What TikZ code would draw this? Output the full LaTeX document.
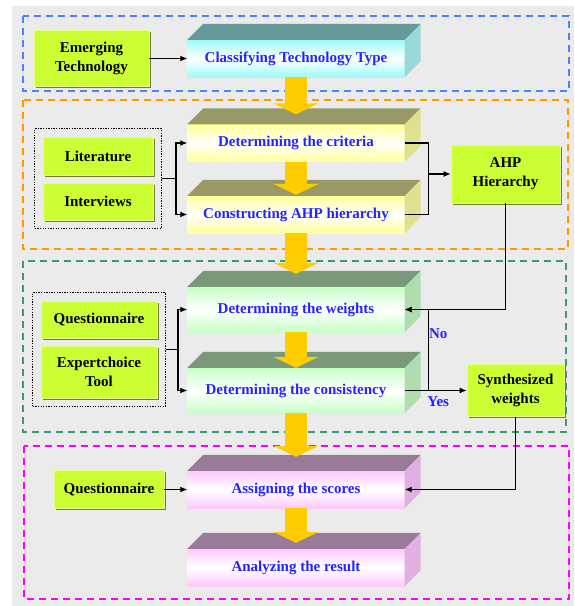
\documentclass[tikz,border=0pt]{standalone}
\usepackage{fontspec}
\setmainfont{Liberation Serif}
\usetikzlibrary{arrows.meta,positioning,fit,shadows}
\definecolor{bggray}{HTML}{EBEBEB}
\definecolor{stepblue}{HTML}{2424FF}
\definecolor{lime}{HTML}{CCFF33}
\definecolor{limeedge}{HTML}{E4FF88}
\definecolor{limeshadow}{HTML}{737B3C}
\definecolor{flowyellow}{HTML}{FFCC00}
\definecolor{cyanfront}{HTML}{9EFAFA}
\definecolor{cyantop}{HTML}{669999}
\definecolor{cyanside}{HTML}{99D9D9}
\definecolor{yelfront}{HTML}{FFFF99}
\definecolor{yeltop}{HTML}{999966}
\definecolor{yelside}{HTML}{E0E08E}
\definecolor{grnfront}{HTML}{C8FFC8}
\definecolor{grntop}{HTML}{7A997A}
\definecolor{grnside}{HTML}{B0DDB0}
\definecolor{pnkfront}{HTML}{FFC8FF}
\definecolor{pnktop}{HTML}{9A7A99}
\definecolor{pnkside}{HTML}{E0B0E0}
\definecolor{dashblue}{HTML}{4F7FFF}
\definecolor{dashorange}{HTML}{FF9900}
\definecolor{dashgreen}{HTML}{3A9970}
\definecolor{dashmagenta}{HTML}{FF00FF}
\tikzset{>/.tip={Latex[length=7pt,width=6pt]}}
\tikzset{
  stepbox/.style={minimum width=217pt,minimum height=37pt,inner sep=0pt,text=stepblue,
    top color=#1,bottom color=#1,middle color=white},
  inbox/.style={fill=lime,draw=limeedge,line width=0.6pt,align=center,inner sep=0pt,
    drop shadow={shadow xshift=1.6pt,shadow yshift=-1.6pt,fill=limeshadow,opacity=1}},
  srcgroup/.style={draw,dash pattern=on 1.3pt off 1.3pt,line width=1.3pt,inner sep=8pt},
  stage/.style={dash pattern=on 7pt off 5pt,line width=1.4pt},
  link/.style={draw,line width=1.3pt},
  flow/.style={line width=22pt,draw=flowyellow,-{Triangle[length=11pt,width=45pt]}},
  flowlabel/.style={text=stepblue,inner sep=0pt}
}
% top face and side face of a step box
\def\cuboid#1#2#3{%
  \fill[#2] (#1.north west) -- ++(16,-16) -- ([shift={(16,-16)}]#1.north east) -- (#1.north east) -- cycle;
  \fill[#3] (#1.north east) -- ++(16,-16) -- ([shift={(16,-16)}]#1.south east) -- (#1.south east) -- cycle;}
\begin{document}
\begin{tikzpicture}[x=1pt,y=-1pt,on grid,font=\bfseries\fontsize{15}{19}\selectfont]
  \useasboundingbox (0,0) rectangle (574,606);
  \fill[bggray] (12,6) rectangle (574,606);
  % stages
  \draw[stage,dashblue] (23,16) rectangle (569,91);
  \draw[stage,dashorange] (23,100) rectangle (568,249);
  \draw[stage,dashgreen] (23,261) rectangle (566,432);
  \draw[stage,dashmagenta] (24,446) rectangle (569,599);
  % main steps
  \node[stepbox=cyanfront] (classify) at (296,58.5) {Classifying Technology Type};
  \node[stepbox=yelfront] (criteria) [below=84.5pt of classify] {Determining the criteria};
  \node[stepbox=yelfront] (constructing) [below=71.5pt of criteria] {Constructing AHP hierarchy};
  \node[stepbox=grnfront,minimum height=45pt] (weights) [below=95pt of constructing] {Determining the weights};
  \node[stepbox=grnfront,minimum height=45pt] (consistency) [below=81pt of weights] {Determining the consistency};
  \node[stepbox=pnkfront] (assign) [below=99pt of consistency] {Assigning the scores};
  \node[stepbox=pnkfront] (analyze) [below=78pt of assign] {Analyzing the result};
  \cuboid{classify}{cyantop}{cyanside}
  \cuboid{criteria}{yeltop}{yelside}
  \cuboid{constructing}{yeltop}{yelside}
  \cuboid{weights}{grntop}{grnside}
  \cuboid{consistency}{grntop}{grnside}
  \cuboid{assign}{pnktop}{pnkside}
  \cuboid{analyze}{pnktop}{pnkside}
  % inputs and outputs
  \node[inbox,minimum width=115pt,minimum height=56pt] (emerging) [left=204.5pt of classify] {Emerging\\Technology};
  \node[inbox,minimum width=110pt,minimum height=38pt] (literature) [below left=13pt and 198pt of criteria] {Literature};
  \node[inbox,minimum width=110pt,minimum height=37pt] (interviews) [below=45.5pt of literature] {Interviews};
  \node[inbox,minimum width=109pt,minimum height=58pt] (ahp) [below right=31pt and 209.5pt of criteria] {AHP\\Hierarchy};
  \node[inbox,minimum width=116pt,minimum height=37pt] (quest) [below left=10pt and 197pt of weights] {Questionnaire};
  \node[inbox,minimum width=116pt,minimum height=52pt] (expert) [below=52.5pt of quest] {Expertchoice\\Tool};
  \node[inbox,minimum width=97pt,minimum height=52pt] (synth) [right=219.5pt of consistency] {Synthesized\\weights};
  \node[inbox,minimum width=110pt,minimum height=38pt] (scoreq) [left=187pt of assign] {Questionnaire};
  \node[srcgroup,fit=(literature)(interviews)] (litgroup) {};
  \node[srcgroup,fit=(quest)(expert)] (toolgroup) {};
  % flow between steps
  \draw[flow] (classify.south) -- ([yshift=10pt]criteria.north);
  \draw[flow] (criteria.south) -- ([yshift=1pt]constructing.north);
  \draw[flow] (constructing.south) -- ([yshift=13pt]weights.north);
  \draw[flow] (weights.south) -- (consistency.north);
  \draw[flow] (consistency.south) -- ([yshift=14pt]assign.north);
  \draw[flow] (assign.south) -- ([yshift=6pt]analyze.north);
  % connectors
  \coordinate (crithub) at ([xshift=23.5pt]criteria.east);
  \coordinate (checkhub) at ([xshift=23.5pt]consistency.east);
  \draw[link,->] (emerging) -- (classify);
  \draw[link,->] (litgroup.east) -- ++(14,0) |- (criteria.west);
  \draw[link,->] (litgroup.east) -- ++(14,0) |- (constructing.west);
  \draw[link] (criteria.east) -- (crithub) |- (constructing.east);
  \draw[link,->] (crithub |- ahp.west) -- (ahp.west);
  \draw[link,->] (ahp.south) |- (weights.east);
  \draw[link,->] (toolgroup.east) -- ++(12,0) |- (weights.west);
  \draw[link,->] (toolgroup.east) -- ++(12,0) |- (consistency.west);
  \draw[link,->] (checkhub) |- (weights.east);
  \draw[link,->] (consistency.east) -- (synth.west);
  \node[flowlabel] (nolabel) at ([shift={(10,-56.5)}]checkhub) {No};
  \node[flowlabel] (yeslabel) at ([shift={(10,11.5)}]checkhub) {Yes};
  \draw[link,->] (synth.south) |- (assign.east);
  \draw[link,->] (scoreq) -- (assign);
\end{tikzpicture}
\end{document}
